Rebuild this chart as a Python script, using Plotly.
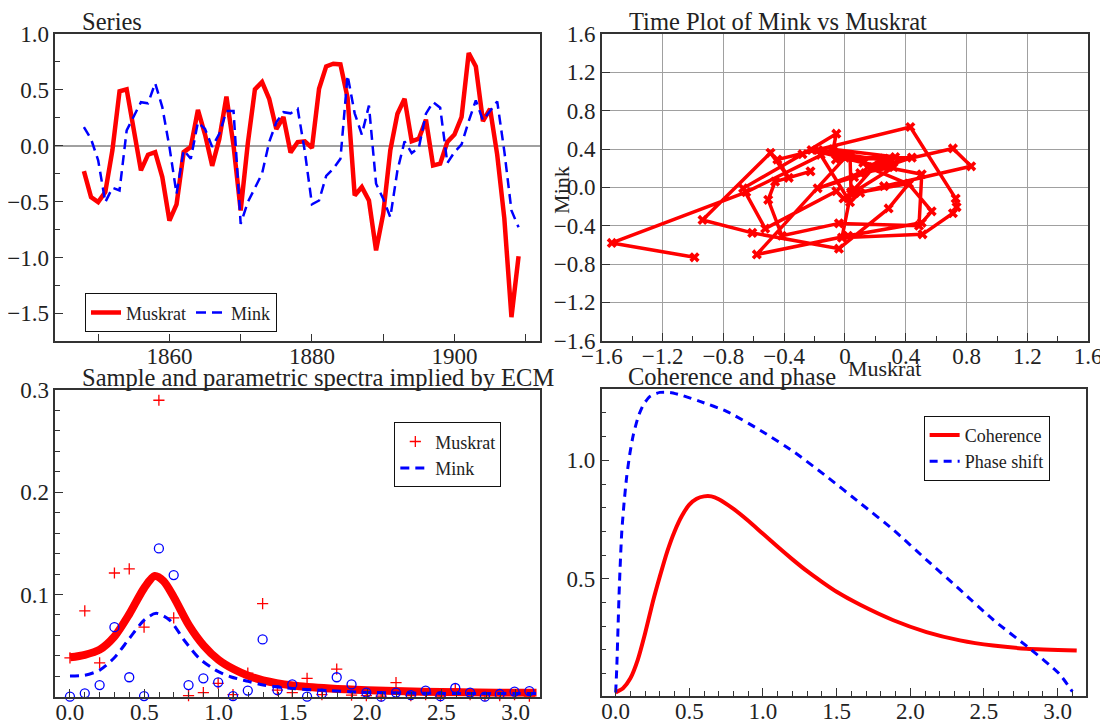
import plotly.graph_objects as go

# ---------------- data ----------------
years = list(range(1848, 1910))
muskrat = [-0.227, -0.46, -0.505, -0.415, -0.04, 0.487, 0.505, 0.12, -0.22, -0.08,
           -0.057, -0.28, -0.67, -0.525, -0.057, -0.01, 0.32, 0.10, -0.18, 0.06,
           0.44, 0.0, -0.58, 0.02, 0.505, 0.57, 0.42, 0.15, 0.257, -0.06,
           0.033, 0.04, -0.02, 0.51, 0.71, 0.734, 0.728, 0.43, -0.445, -0.37,
           -0.49, -0.937, -0.61, -0.04, 0.287, 0.42, 0.04, 0.063, 0.233, -0.176,
           -0.16, 0.033, 0.10, 0.257, 0.83, 0.71, 0.22, 0.33, -0.08, -0.65,
           -1.534, -0.99]
mink = [0.167, 0.06, -0.13, -0.505, -0.376, -0.40, 0.137, 0.257, 0.39, 0.38,
        0.56, 0.346, -0.01, -0.43, -0.04, -0.116, 0.21, 0.15, -0.01, 0.107,
        0.31, 0.31, -0.70, -0.505, -0.37, -0.25, 0.033, 0.21, 0.30, 0.29,
        0.33, -0.05, -0.525, -0.49, -0.27, -0.206, -0.116, 0.63, 0.29, 0.10,
        0.36, -0.34, -0.475, -0.64, -0.22, 0.04, -0.066, -0.018, 0.287, 0.39,
        0.34, -0.155, -0.057, 0.012, 0.22, 0.406, 0.227, 0.316, 0.397, -0.05,
        -0.58, -0.73]

freq = [0.0, 0.0997, 0.1995, 0.2992, 0.3989, 0.4987, 0.5984, 0.6981, 0.7979, 0.8976,
        0.9973, 1.0971, 1.1968, 1.2965, 1.3963, 1.4960, 1.5957, 1.6955, 1.7952, 1.8950,
        1.9947, 2.0944, 2.1942, 2.2939, 2.3936, 2.4934, 2.5931, 2.6928, 2.7926, 2.8923,
        2.9920, 3.0918]
pgram_muskrat = [0.038, 0.084, 0.033, 0.121, 0.125, 0.068, 0.29, 0.077, 0.001, 0.004,
                 0.013, 0.002, 0.023, 0.091, 0.0065, 0.004, 0.018, 0.002, 0.027, 0.0015,
                 0.001, 0.0005, 0.0137, 0.001, 0.002, 0.0005, 0.0075, 0.002, 0.001, 0.001,
                 0.002, 0.0005]
pgram_mink = [0.0, 0.0033, 0.0114, 0.068, 0.019, 0.0006, 0.145, 0.119, 0.0114, 0.018,
              0.014, 0.0006, 0.006, 0.056, 0.0065, 0.012, 0.0, 0.003, 0.019, 0.012,
              0.004, 0.0, 0.004, 0.0015, 0.006, 0.0005, 0.0085, 0.004, 0.0, 0.0026,
              0.005, 0.0055]

spec_m_x = [0, 0.1, 0.2, 0.3, 0.4, 0.5, 0.57, 0.63, 0.7, 0.8, 0.9, 1.0, 1.1, 1.2, 1.3,
            1.5, 1.75, 2.0, 2.25, 2.5, 2.75, 3.0, 3.14]
spec_m_y = [0.0385, 0.041, 0.046, 0.059, 0.081, 0.1065, 0.118, 0.113, 0.097, 0.070,
            0.050, 0.036, 0.027, 0.0205, 0.016, 0.011, 0.008, 0.0063, 0.0053, 0.0046,
            0.0041, 0.0038, 0.0038]
spec_k_x = [0, 0.1, 0.2, 0.3, 0.4, 0.5, 0.58, 0.67, 0.77, 0.87, 0.98, 1.08, 1.2, 1.3,
            1.5, 1.75, 2.0, 2.5, 3.0, 3.14]
spec_k_y = [0.0202, 0.021, 0.026, 0.0384, 0.057, 0.075, 0.0815, 0.075, 0.055, 0.0375,
            0.026, 0.0195, 0.015, 0.0114, 0.008, 0.0058, 0.0042, 0.0032, 0.003, 0.003]

coh_x = [0, 0.05, 0.1, 0.15, 0.2, 0.25, 0.3, 0.35, 0.4, 0.45, 0.5, 0.55, 0.6, 0.65,
         0.7, 0.8, 0.9, 1.0, 1.1, 1.2, 1.3, 1.4, 1.5, 1.66, 1.885, 2.11, 2.337, 2.563,
         2.79, 3.13]
coh_y = [0.02, 0.038, 0.08, 0.158, 0.27, 0.397, 0.51, 0.615, 0.70, 0.766, 0.813, 0.838,
         0.848, 0.848, 0.836, 0.795, 0.745, 0.69, 0.635, 0.582, 0.532, 0.487, 0.445,
         0.39, 0.325, 0.275, 0.24, 0.218, 0.205, 0.197]
phase_x = [0, 0.007, 0.025, 0.041, 0.057, 0.075, 0.097, 0.12, 0.154, 0.188, 0.233,
           0.30, 0.369, 0.437, 0.572, 0.753, 1.0, 1.205, 1.432, 1.659, 1.885, 2.11,
           2.337, 2.563, 2.808, 3.01, 3.10]
phase_y = [0.02, 0.115, 0.468, 0.693, 0.82, 0.932, 1.031, 1.108, 1.186, 1.235, 1.27,
           1.287, 1.287, 1.277, 1.249, 1.207, 1.12, 1.038, 0.932, 0.82, 0.707, 0.58,
           0.454, 0.327, 0.207, 0.10, 0.024]

scatter_xticks = [-1.6, -1.2, -0.8, -0.4, 0, 0.4, 0.8, 1.2, 1.6]
scatter_xlabels = ["\u22121.6", "\u22121.2", "\u22120.8", "\u22120.4", "0", "0.4", "0.8", "1.2", "1.6"]

# ---------------- style ----------------
RED = "#ff0000"
BLUE = "#0000ff"
FONT = "Liberation Serif"
TXT = "#222222"
TICKF = dict(family=FONT, size=23, color=TXT)

# the page body adds an 8px margin, so the figure sits at (8, 8) in the window
W, H = 1100, 717

fig = go.Figure()

# Top-left: series
fig.add_trace(go.Scatter(x=years, y=muskrat, mode="lines", name="Muskrat",
                         line=dict(color=RED, width=4.5), xaxis="x", yaxis="y",
                         legend="legend"))
fig.add_trace(go.Scatter(x=years, y=mink, mode="lines", name="Mink",
                         line=dict(color=BLUE, width=2.5, dash="10px,6px"),
                         xaxis="x", yaxis="y", legend="legend"))

# Top-right: scatter
fig.add_trace(go.Scatter(x=muskrat, y=mink, mode="lines+markers", showlegend=False,
                         line=dict(color=RED, width=3.5),
                         marker=dict(symbol="x", size=9, color=RED),
                         xaxis="x2", yaxis="y2"))

# Bottom-left: spectra
fig.add_trace(go.Scatter(x=spec_m_x, y=spec_m_y, mode="lines", showlegend=False,
                         line=dict(color=RED, width=8, shape="spline", smoothing=0.8),
                         xaxis="x3", yaxis="y3"))
fig.add_trace(go.Scatter(x=freq, y=pgram_muskrat, mode="markers", name="Muskrat",
                         marker=dict(symbol="cross-thin-open", size=8, color=RED,
                                     line=dict(color=RED, width=1.3)),
                         cliponaxis=False, xaxis="x3", yaxis="y3", legend="legend2"))
fig.add_trace(go.Scatter(x=freq, y=pgram_mink, mode="markers", showlegend=False,
                         marker=dict(symbol="circle-open", size=9, color=BLUE,
                                     line=dict(color=BLUE, width=1.3)),
                         cliponaxis=False, xaxis="x3", yaxis="y3"))
fig.add_trace(go.Scatter(x=spec_k_x, y=spec_k_y, mode="lines", name="Mink",
                         line=dict(color=BLUE, width=3, dash="9px,6px",
                                   shape="spline", smoothing=0.8),
                         xaxis="x3", yaxis="y3", legend="legend2"))

# Bottom-right: coherence and phase
fig.add_trace(go.Scatter(x=coh_x, y=coh_y, mode="lines", name="Coherence",
                         line=dict(color=RED, width=4, shape="spline", smoothing=0.6),
                         xaxis="x4", yaxis="y4", legend="legend3"))
fig.add_trace(go.Scatter(x=phase_x, y=phase_y, mode="lines", name="Phase shift",
                         line=dict(color=BLUE, width=3, dash="8px,6px",
                                   shape="spline", smoothing=0.6),
                         xaxis="x4", yaxis="y4", legend="legend3"))

axis_common = dict(showline=True, mirror=True, linecolor="#333333", linewidth=1.5,
                   ticks="inside", ticklen=8, tickwidth=1.2, tickcolor="#333333",
                   tickfont=TICKF, showgrid=False, zeroline=False, automargin=False)
XSO = dict(ticklabelstandoff=-6)

def minor(dt, t0=0, ln=4, grid=False):
    return dict(tickmode="linear", tick0=t0, dtick=dt, ticks="inside", ticklen=ln,
                tickwidth=1.2, tickcolor="#333333", showgrid=grid)

X1 = [0.0431, 0.4836]
X2 = [0.5398, 0.982]
X4 = [0.5397, 0.980]
YT = [0.536, 0.9637]
YB = [0.0395, 0.4672]
Y4 = [0.0404, 0.4682]

fig.update_layout(
    width=W, height=H, autosize=False,
    margin=dict(l=0, r=0, t=0, b=0, autoexpand=False),
    paper_bgcolor="white", plot_bgcolor="white",
    font=dict(family=FONT, color=TXT),
    xaxis=dict(axis_common, **XSO, domain=X1, anchor="y", range=[1844, 1912],
               tickmode="linear", tick0=1860, dtick=20, ticklen=7,
               minor=minor(10, 1850, 7)),
    yaxis=dict(axis_common, domain=YT, anchor="x", range=[-1.745, 1.0],
               tickmode="linear", tick0=0, dtick=0.5, tickformat=".1f",
               zeroline=True, zerolinecolor="#a0a0a0", zerolinewidth=1.5,
               minor=minor(0.25, 0, 5)),
    xaxis2=dict(axis_common, **XSO, domain=X2, anchor="y2", range=[-1.6, 1.6],
                tickmode="array", tickvals=scatter_xticks, ticktext=scatter_xlabels,
                showgrid=True, gridcolor="#a0a0a0", gridwidth=1,
                minor=minor(0.2, 0, 5)),
    yaxis2=dict(axis_common, domain=YT, anchor="x2", range=[-1.6, 1.6],
                tickmode="linear", tick0=0, dtick=0.4, tickformat=".1f",
                showgrid=True, gridcolor="#a0a0a0", gridwidth=1),
    xaxis3=dict(axis_common, **XSO, domain=X1, anchor="y3", range=[-0.098, 3.163],
                tickmode="linear", tick0=0, dtick=0.5, tickformat=".1f",
                minor=minor(0.1, 0, 5)),
    yaxis3=dict(axis_common, domain=YB, anchor="x3", range=[0, 0.3],
                tickmode="array", tickvals=[0.1, 0.2, 0.3], tickformat=".1f",
                minor=minor(0.02, 0, 5)),
    xaxis4=dict(axis_common, **XSO, domain=X4, anchor="y4", range=[-0.095, 3.193],
                tickmode="linear", tick0=0, dtick=0.5, tickformat=".1f",
                minor=minor(0.1, 0, 5)),
    yaxis4=dict(axis_common, domain=Y4, anchor="x4", range=[0.005, 1.30],
                tickmode="array", tickvals=[0.5, 1.0], tickformat=".1f",
                minor=minor(0.1, 0, 5)),
    legend=dict(x=0.070, y=0.6021, xanchor="left", yanchor="top", orientation="h",
                bordercolor="#111111", borderwidth=1, bgcolor="white",
                font=dict(family=FONT, size=18, color=TXT), tracegroupgap=0,
                itemwidth=30),
    legend2=dict(x=0.3512, y=0.4222, xanchor="left", yanchor="top",
                 bordercolor="#111111", borderwidth=1, bgcolor="white",
                 font=dict(family=FONT, size=18, color=TXT), tracegroupgap=0,
                 itemwidth=30),
    legend3=dict(x=0.8324, y=0.4314, xanchor="left", yanchor="top",
                 bordercolor="#111111", borderwidth=1, bgcolor="white",
                 font=dict(family=FONT, size=18, color=TXT), tracegroupgap=0,
                 itemwidth=30),
)

titles = [
    ("Series", 0.0667, YT[1]),
    ("Time Plot of Mink vs Muskrat", 0.5635, YT[1]),
    ("Sample and parametric spectra implied by ECM", 0.0667, YB[1]),
    ("Coherence and phase", 0.5625, Y4[1]),
]
for t, x, y in titles:
    fig.add_annotation(text=t, x=x, y=y, xref="paper", yref="paper",
                       xanchor="left", yanchor="bottom", showarrow=False,
                       borderpad=0, yshift=-2,
                       font=dict(family=FONT, size=24.5, color=TXT))

fig.add_annotation(text="Muskrat", x=0.7964, y=0.4979, xref="paper", yref="paper",
                   xanchor="center", yanchor="middle", showarrow=False,
                   font=dict(family=FONT, size=22, color=TXT))
fig.add_annotation(text="Mink", x=0.5036, y=0.7462, xref="paper", yref="paper",
                   xanchor="center", yanchor="middle", showarrow=False, textangle=-90,
                   font=dict(family=FONT, size=22, color=TXT))

fig.write_html("out.html")
